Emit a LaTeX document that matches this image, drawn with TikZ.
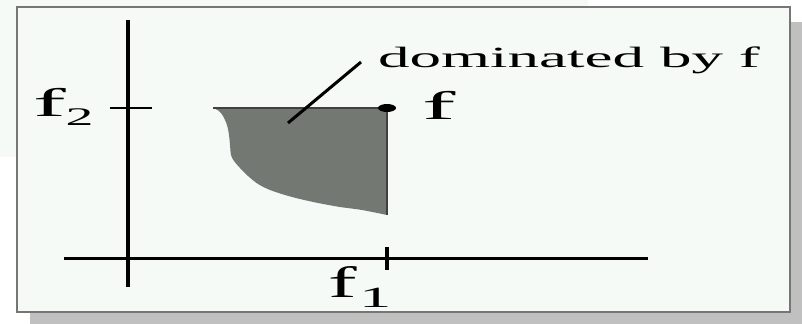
\documentclass[tikz,border=0pt]{standalone}
\usepackage{fontspec}
\setmainfont{Liberation Serif}
\usetikzlibrary{shapes.geometric}
\definecolor{bgl}{RGB}{246,250,247}
\definecolor{shadowc}{RGB}{192,192,192}
\definecolor{framec}{RGB}{118,118,118}
\definecolor{regionc}{RGB}{115,120,115}
\begin{document}
\begin{tikzpicture}[x=0.75pt,y=-0.75pt,
  lbl/.style={anchor=base west, inner sep=0pt, outer sep=0pt},
  axisv/.style={line width=3pt},
  axish/.style={line width=2.25pt},
  tick/.style={line width=1.6pt}]
\useasboundingbox (0,0) rectangle (802,324);
\fill[bgl] (0,0) rectangle (588,157);
\fill[shadowc] (30,22) rectangle (802,324);
\draw[framec, line width=1.2pt, fill=bgl] (17,7) rectangle (790,312);
% dominated region
\fill[regionc] (387,108) -- (213,108) -- plot[smooth, tension=0.5] coordinates {(213,108) (219,111) (223,116) (227,125) (229,135) (230,145) (231,155) (234,161) (240,168) (248,176) (258,184) (270,190) (285,195) (300,199) (318,203) (340,207) (362,210) (387,215)} -- cycle;
\draw[line width=0.8pt, black!75] (213,108) -- (387,108) -- (387,215);
% axes
\coordinate (vt) at (128,20);
\coordinate (vb) at (128,287);
\coordinate (hl) at (64,258);
\coordinate (hr) at (648,258);
\draw[axisv] (vt) -- (vb);
\draw[axish] (hl) -- (hr);
\coordinate (t2a) at (110,108);
\coordinate (t2b) at (152,108);
\draw[tick] (t2a) -- (t2b);
\coordinate (t1a) at (387,247);
\coordinate (t1b) at (387,270);
\draw[axisv] (t1a) -- (t1b);
% point f
\node[ellipse, fill=black, minimum width=13.5pt, minimum height=6pt, inner sep=0pt] (fpt) at (387,108) {};
% leader
\coordinate (lin) at (288,123);
\coordinate (lout) at (361,62);
\draw[line width=2.25pt] (lin) -- (lout);
% labels
\node[lbl, font=\fontsize{22}{24}\selectfont] (dom) at (378,68) {\scalebox{2.15}[1]{dominated by f}};
\node[lbl, font=\fontsize{30}{32}\selectfont] (flab) at (422,120) {\scalebox{2.5}[1]{f}};
\node[lbl, font=\fontsize{30}{32}\selectfont] (f2lab) at (33,117) {\scalebox{2.45}[1]{f}\hspace{0pt}\raisebox{-6.5pt}{\fontsize{19}{21}\selectfont\scalebox{2.2}[1]{2}}};
\node[lbl, font=\fontsize{33}{35}\selectfont] (f1lab) at (328,297) {\scalebox{1.95}[1]{f}\hspace{2pt}\raisebox{-7.5pt}{\fontsize{22}{24}\selectfont\scalebox{2.2}[1]{1}}};
\end{tikzpicture}
\end{document}
